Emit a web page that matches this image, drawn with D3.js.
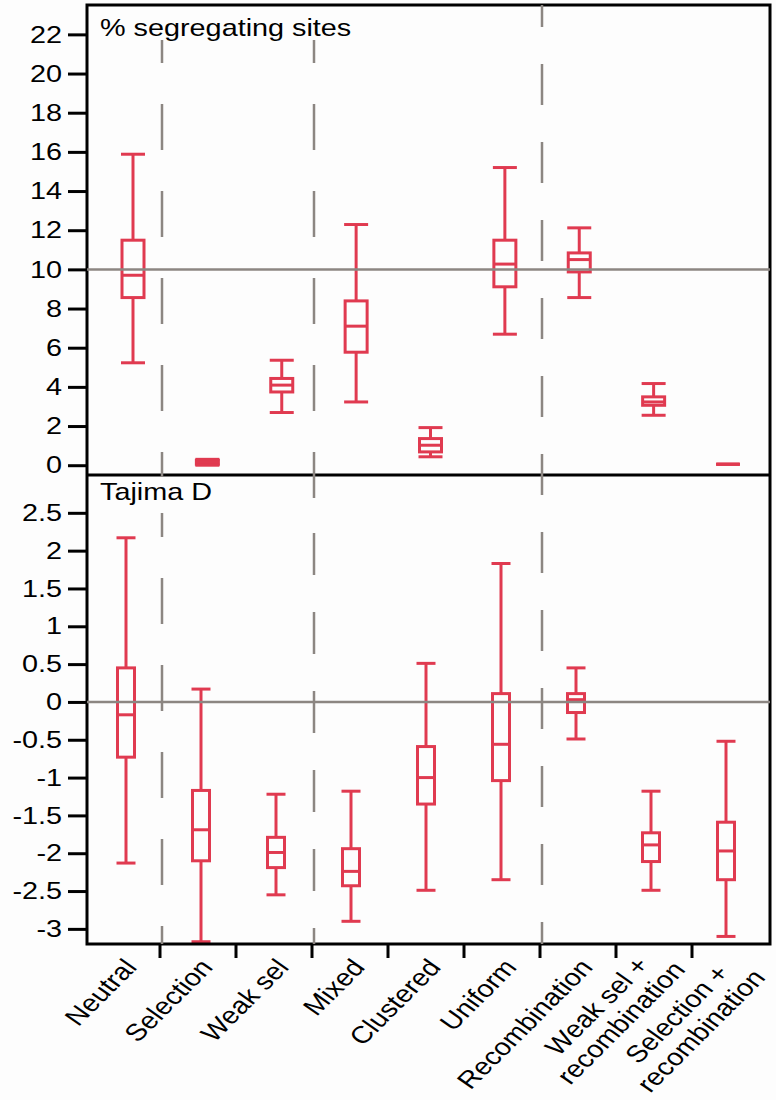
<!DOCTYPE html>
<html>
<head>
<meta charset="utf-8">
<script src="https://cdn.jsdelivr.net/npm/d3@7"></script>
<style>
  body { margin: 0; background: #fdfdfd; }
  text { font-family: "Liberation Sans", Arial, Helvetica, sans-serif; }
</style>
</head>
<body>
<div class="chart"></div>
<script>
// categories on the x axis (\n = second line of the label)
const categories = ["Neutral", "Selection", "Weak sel", "Mixed", "Clustered", "Uniform",
  "Recombination", "Weak sel +\nrecombination", "Selection +\nrecombination"];

// % segregating sites (top panel)
const segLow  = [5.23, 0.00, 2.69, 3.23, 0.43, 6.69, 8.56, 2.55, 0.05];
const segQ1   = [8.56, 0.05, 3.74, 5.77, 0.68, 9.11, 9.87, 3.06, 0.05];
const segMed  = [9.70, 0.15, 4.09, 7.10, 1.02, 10.27, 10.50, 3.23, 0.05];
const segQ3   = [11.49, 0.25, 4.43, 8.39, 1.36, 11.49, 10.84, 3.49, 0.05];
const segHigh = [15.88, 0.30, 5.36, 12.29, 1.92, 15.20, 12.12, 4.17, 0.05];

// Tajima D (bottom panel)
const tajLow  = [-2.13, -3.17, -2.55, -2.90, -2.49, -2.35, -0.49, -2.49, -3.10];
const tajQ1   = [-0.73, -2.10, -2.19, -2.43, -1.35, -1.04, -0.14, -2.11, -2.35];
const tajMed  = [-0.17, -1.69, -1.99, -2.24, -1.00, -0.56, 0.03, -1.89, -1.97];
const tajQ3   = [0.45, -1.17, -1.79, -1.94, -0.59, 0.11, 0.11, -1.73, -1.59];
const tajHigh = [2.17, 0.17, -1.22, -1.18, 0.51, 1.83, 0.45, -1.18, -0.52];

// axis ticks
const segTicks = [0, 2, 4, 6, 8, 10, 12, 14, 16, 18, 20, 22];
const tajTicks = [-3, -2.5, -2, -1.5, -1, -0.5, 0, 0.5, 1, 1.5, 2, 2.5];
const tajTickLabels = ["-3", "-2.5", "-2", "-1.5", "-1", "-0.5", "0", "0.5", "1", "1.5", "2", "2.5"];
const segRef = 10, tajRef = 0;

const W = 776, H = 1100;
const left = 87, right = 770, top1 = 5, mid = 475, bottom = 944;
const red = "#e03a50", gray = "#8c8682", sx = 1.2;

const svg = d3.select(".chart").append("svg").attr("width", W).attr("height", H);
svg.append("rect").attr("width", W).attr("height", H).attr("fill", "#fdfdfd");

const xBand = d3.scaleBand().domain(categories).range([84, 768]);
const xTop = d3.scalePoint().domain(categories).range([133, 728]);
const xBot = d3.scalePoint().domain(categories).range([126, 726]);
const yTop = d3.scaleLinear().domain([-0.5, 23.5]).range([mid, top1]);
const yBot = d3.scaleLinear().domain([-3.2, 3.0]).range([bottom, mid]);

function stats(lo, q1, md, q3, hi) {
  return categories.map((c, i) => ({cat: c, lo: lo[i], q1: q1[i], md: md[i], q3: q3[i], hi: hi[i]}));
}

function drawBoxes(data, x, y, boxW, capW) {
  const g = svg.append("g").attr("stroke", red).attr("stroke-width", 3).attr("fill", "none");
  const b = g.selectAll("g").data(data).enter().append("g")
    .attr("transform", d => "translate(" + x(d.cat) + ",0)");
  b.append("line").attr("y1", d => y(d.lo)).attr("y2", d => y(d.hi));
  b.append("rect")
    .attr("x", -boxW / 2).attr("width", boxW)
    .attr("y", d => y(d.q3)).attr("height", d => y(d.q1) - y(d.q3))
    .attr("fill", "#fdfdfd");
  b.append("line").attr("x1", -boxW / 2).attr("x2", boxW / 2)
    .attr("y1", d => y(d.md)).attr("y2", d => y(d.md));
  b.selectAll(".cap").data(d => [d.lo, d.hi]).enter().append("line")
    .attr("x1", -capW / 2).attr("x2", capW / 2)
    .attr("y1", v => y(v)).attr("y2", v => y(v));
}

drawBoxes(stats(segLow, segQ1, segMed, segQ3, segHigh), xTop, yTop, 22, 24);
drawBoxes(stats(tajLow, tajQ1, tajMed, tajQ3, tajHigh), xBot, yBot, 17, 19);

// frame
svg.append("rect").attr("x", left).attr("y", top1)
  .attr("width", right - left).attr("height", bottom - top1)
  .attr("fill", "none").attr("stroke", "#000").attr("stroke-width", 3);
svg.append("line").attr("x1", left).attr("x2", right).attr("y1", mid).attr("y2", mid)
  .attr("stroke", "#000").attr("stroke-width", 3);

// y axes
function yAxis(y, major, labels, minor) {
  const g = svg.append("g").attr("transform", "translate(" + left + ",0)");
  g.call(d3.axisLeft(y).tickValues(minor).tickSize(9).tickFormat(""));
  g.call(d3.axisLeft(y).tickValues(major).tickSize(19).tickFormat((d, i) => labels[i]));
  g.selectAll(".domain").remove();
  g.selectAll("line").attr("stroke", "#000").attr("stroke-width", 3);
  g.selectAll("text").attr("font-size", 24).attr("fill", "#000")
    .attr("font-family", "Liberation Sans, Arial, sans-serif")
    .attr("x", null).attr("transform", "translate(-25,0) scale(" + sx + ",1)");
}
const segMinor = d3.range(0, 23.01, 0.5).filter(v => !segTicks.includes(v));
const tajMinor = d3.range(-2.75, 2.76, 0.5);
yAxis(yTop, segTicks, segTicks.map(String), segMinor);
yAxis(yBot, tajTicks, tajTickLabels, tajMinor);

// x ticks at category boundaries
const bounds = categories.slice(1).map(c => xBand(c));
svg.append("g").selectAll("line").data(bounds).enter().append("line")
  .attr("x1", d => d).attr("x2", d => d).attr("y1", bottom).attr("y2", bottom + 14)
  .attr("stroke", "#000").attr("stroke-width", 3);

// reference lines
svg.append("line").attr("x1", left).attr("x2", right)
  .attr("y1", yTop(segRef)).attr("y2", yTop(segRef))
  .attr("stroke", gray).attr("stroke-width", 2.5);
svg.append("line").attr("x1", left).attr("x2", right)
  .attr("y1", yBot(tajRef)).attr("y2", yBot(tajRef))
  .attr("stroke", gray).attr("stroke-width", 2.5);

// dashed group separators
const separators = [
  {after: 0, segs: [[40, 477, "46 41", 23], [513, 944, "46 41", 22]]},
  {after: 2, segs: [[40, 499, "46 41", 23], [533, 944, "42 37", 0]]},
  {after: 5, segs: [[5, 944, "41 37", 19]]}
];
separators.forEach(s => {
  const xp = xBand(categories[s.after + 1]) + 2;
  s.segs.forEach(([y1, y2, dash, off]) => {
    svg.append("line").attr("x1", xp).attr("x2", xp).attr("y1", y1).attr("y2", y2)
      .attr("stroke", gray).attr("stroke-width", 2.5)
      .attr("stroke-dasharray", dash).attr("stroke-dashoffset", off);
  });
});

// panel titles
svg.append("text").attr("transform", "translate(100,35.5) scale(" + sx + ",1)")
  .attr("font-size", 24).text("% segregating sites");
svg.append("text").attr("transform", "translate(100,500) scale(" + sx + ",1)")
  .attr("font-size", 24).text("Tajima D");

// category labels
categories.forEach((c, i) => {
  const lines = c.split("\n");
  const cx = xBand(c) + xBand.bandwidth() / 2;
  const dy = i === categories.length - 1 ? 8 : 0;
  const t = svg.append("g")
    .attr("transform", "translate(" + (cx + 16 + dy / 2) + "," + (968 + dy) + ") scale(" + sx + ",1) rotate(-50)");
  if (lines.length === 1) {
    t.append("text").attr("text-anchor", "end").attr("font-size", 24).text(lines[0]);
  } else {
    const l2 = t.append("text").attr("text-anchor", "end").attr("font-size", 24)
      .attr("x", 7).attr("y", 12).text(lines[1]);
    const w2 = l2.node().getComputedTextLength();
    t.append("text").attr("text-anchor", "middle").attr("font-size", 24)
      .attr("x", 7 - w2 / 2).attr("y", 12 - 26).text(lines[0]);
  }
});
</script>
</body>
</html>
